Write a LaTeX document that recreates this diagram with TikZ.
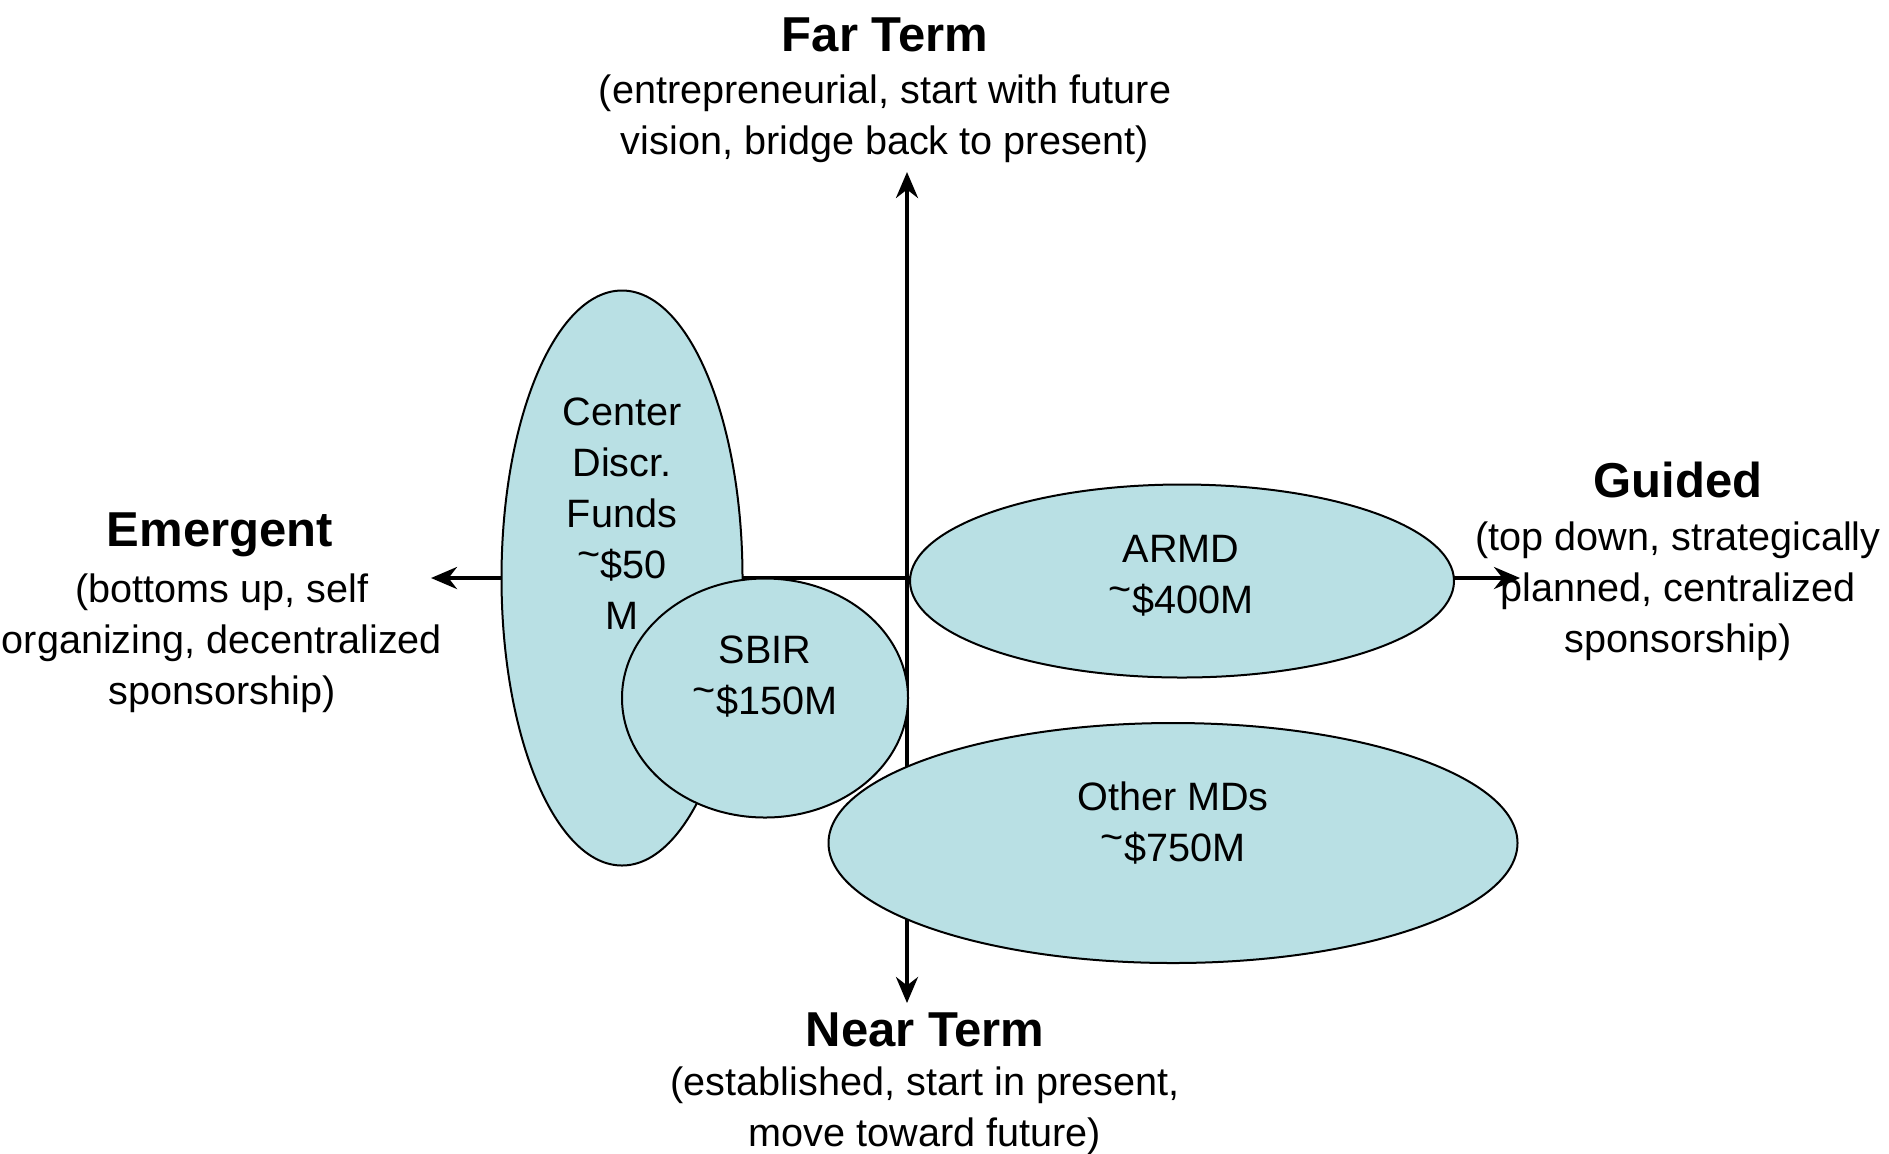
\documentclass[tikz,border=0pt]{standalone}
\usepackage{fontspec}
\setmainfont{Liberation Sans}
\usetikzlibrary{shapes.geometric,arrows.meta}
\definecolor{blobfill}{RGB}{185,224,228}
\newcommand\mytilde{\raisebox{0.28em}{\textasciitilde}}
\begin{document}
\begin{tikzpicture}[x=0.5pt,y=-0.5pt,
  axis/.style={line width=1.9pt,-{Stealth[length=13pt,width=11pt]}},
  blob/.style={ellipse,draw=black,line width=1pt,fill=blobfill,inner sep=0pt},
  txt/.style={align=center,inner sep=0pt,font=\fontsize{19.8pt}{25.5pt}\selectfont},
  ttl/.style={inner sep=0pt,font=\fontsize{24.5pt}{28pt}\selectfont\bfseries}]
\useasboundingbox (0,0) rectangle (1889,1153);
\coordinate (origin) at (907,578);
\coordinate (top) at (907,172);
\coordinate (bottom) at (907,1003);
\coordinate (left) at (431,578);
\coordinate (right) at (1520,578);
\draw[axis] (origin) -- (top);
\draw[axis] (origin) -- (bottom);
\draw[axis] (origin) -- (left);
\draw[axis] (origin) -- (right);
\node[blob,minimum width=120.5pt,minimum height=287.5pt] (cdf) at (622,578) {};
\node[blob,minimum width=143pt,minimum height=119.5pt] (sbir) at (765,698) {};
\node[blob,minimum width=272pt,minimum height=96.5pt] (armd) at (1182,581) {};
\node[blob,minimum width=344.5pt,minimum height=120pt] (omd) at (1173,843) {};
\node[txt] (cdft) at (622,514) {Center\\Discr.\\Funds\\\mytilde\$50\\M};
\node[txt] (sbirt) at (765,677) {SBIR\\\mytilde\$150M};
\node[txt] (armdt) at (1181,576) {ARMD\\\mytilde\$400M};
\node[txt] (omdt) at (1173,823) {Other MDs\\\mytilde\$750M};
\node[ttl] (far) at (885,35) {Far Term};
\node[txt] (fars) at (885,119) {(entrepreneurial, start with future\\vision, bridge back to present)};
\node[ttl] (emg) at (220,535) {Emergent};
\node[txt] (emgs) at (222,643) {(bottoms up, self\\organizing, decentralized\\sponsorship)};
\node[ttl] (gui) at (1678,480) {Guided};
\node[txt] (guis) at (1678,591) {(top down, strategically\\planned, centralized\\sponsorship)};
\node[ttl] (near) at (925,1030) {Near Term};
\node[txt] (nears) at (925,1111) {(established, start in present,\\move toward future)};
\end{tikzpicture}
\end{document}
